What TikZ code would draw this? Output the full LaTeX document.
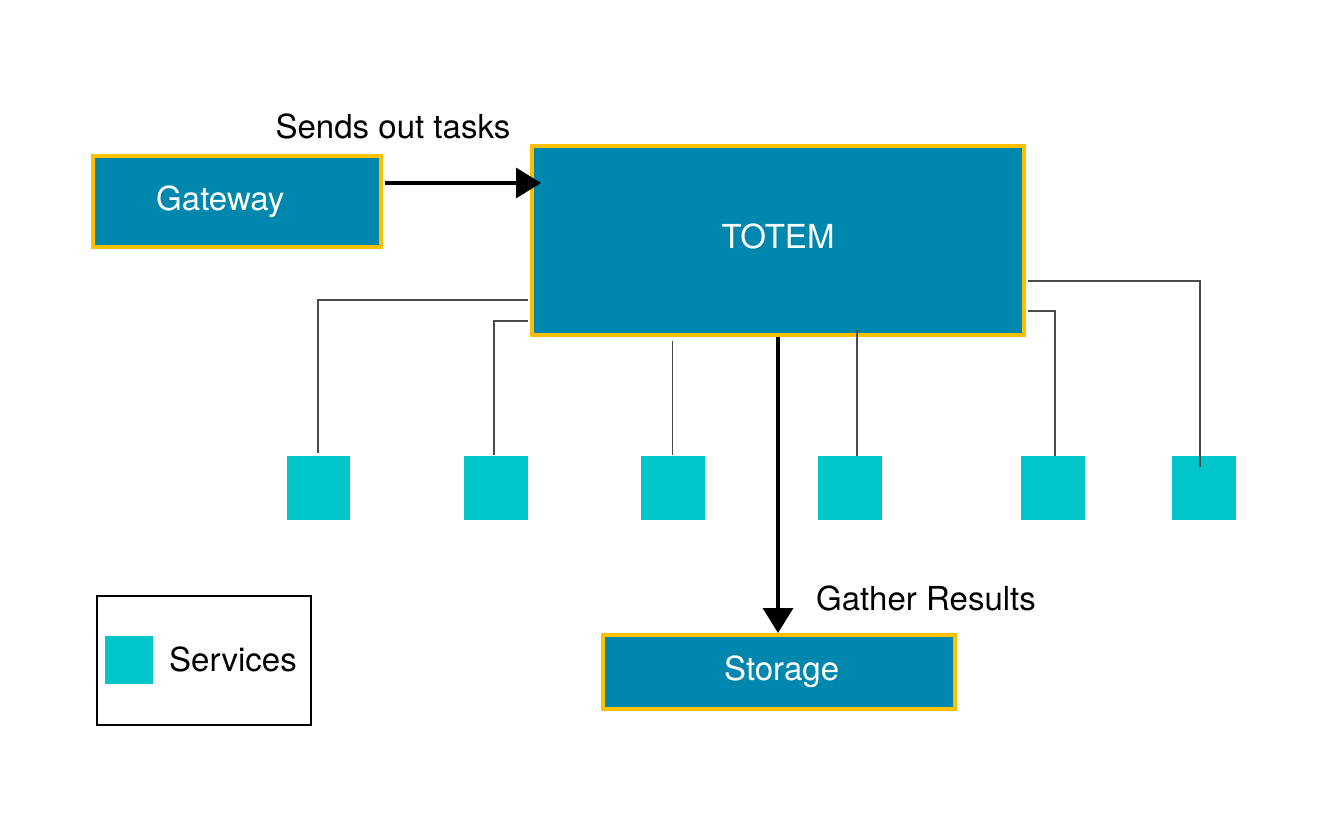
\documentclass[tikz,border=0pt]{standalone}
\usepackage{fontspec}
\setmainfont{TeX Gyre Heros}
\usetikzlibrary{arrows.meta}
\definecolor{totemblue}{HTML}{0087AE}
\definecolor{gold}{HTML}{FFC000}
\definecolor{servcyan}{HTML}{00C6CC}
\definecolor{wiregray}{HTML}{4A4A4A}
\begin{document}
\begin{tikzpicture}[x=0.02cm, y=-0.02cm]
		\tikzstyle{block} = [rectangle, draw=gold, line width=2.3pt, fill=totemblue, text=white, inner sep=0pt, font=\fontsize{18.8}{22}\selectfont]
		\tikzstyle{service} = [rectangle, fill=servcyan, inner sep=0pt, minimum width=1.28cm, minimum height=1.28cm]
		\tikzstyle{label} = [inner sep=0pt, font=\fontsize{18.8}{22}\selectfont]
		\tikzstyle{wire} = [draw=wiregray, line width=0.6pt]
		\tikzstyle{flow} = [line width=2pt, -{Triangle[length=0.5cm, width=0.6cm]}]

		\useasboundingbox (0,0) rectangle (1325,829);

		% Define the main blocks
		\node[block, minimum width=5.76cm, minimum height=1.82cm] (Gateway) at (237,201.5) {Gateway\hspace*{19pt}};
		\node[block, minimum width=9.84cm, minimum height=3.78cm] (TOTEM) at (778,240.5) {\raisebox{5pt}{TOTEM}};
		\node[block, minimum width=7.04cm, minimum height=1.48cm] (Storage) at (779,672) {\hspace*{3pt}Storage};

		% Services
		\node[service] (S1) at (318.5,487.5) {};
		\node[service] (S2) at (495.5,487.5) {};
		\node[service] (S3) at (672.5,487.5) {};
		\node[service] (S4) at (849.5,487.5) {};
		\node[service] (S5) at (1052.5,487.5) {};
		\node[service] (S6) at (1203.5,487.5) {};

		% Connect TOTEM to the services
		\coordinate (S1top) at (318,453);
		\coordinate (S4top) at (857,456);
		\coordinate (S5top) at (1055,456);
		\coordinate (S6end) at (1200,467);
		\draw[wire] ([xshift=-1.1pt]TOTEM.west |- 0,300) -| (S1top);
		\draw[wire] ([xshift=-1.1pt]TOTEM.west |- 0,321) -| (S2.north -| 494,0);
		\draw[wire] (S3.north |- 0,341) -- (S3.north);
		\draw[wire] (S4top |- 0,330) -- (S4top);
		\draw[wire] ([xshift=1.1pt]TOTEM.east |- 0,311) -| (S5top);
		\draw[wire] ([xshift=1.1pt]TOTEM.east |- 0,281) -| (S6end);

		% Draw the task and result arrows with labels
		\coordinate (tasksin) at (541,183);
		\draw[flow] ([xshift=1.1pt]Gateway.east |- tasksin) -- (tasksin);
		\node[label] (sends) at (393,126) {Sends out tasks};
		\draw[flow] (TOTEM.south |- 0,337) -- (TOTEM.south |- Storage.north);
		\node[label] (gather) at (926,598) {Gather Results};

		% Legend
		\node[rectangle, draw=black, line width=1.1pt, minimum width=4.28cm, minimum height=2.58cm] (legend) at (204,660.5) {};
		\node[rectangle, fill=servcyan, inner sep=0pt, minimum width=0.96cm, minimum height=0.96cm] (legendbox) at (129,660) {};
		\node[label] (legendtext) at (233,659) {Services};

		\end{tikzpicture}
\end{document}
